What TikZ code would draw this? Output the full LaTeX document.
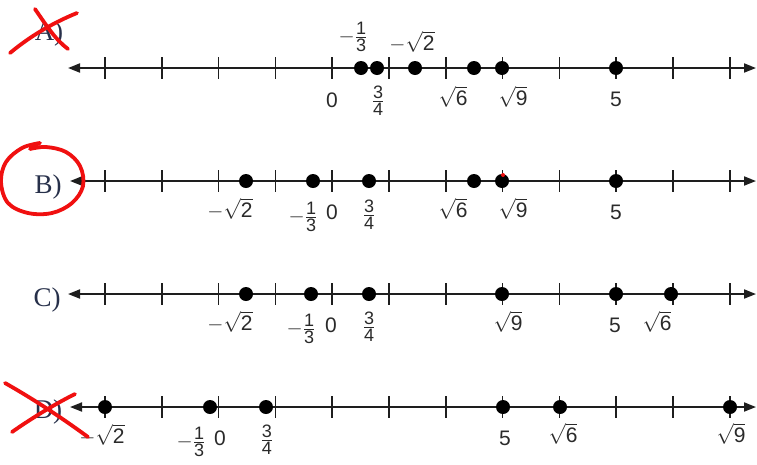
\documentclass[tikz,border=0pt]{standalone}
\usepackage{amsmath}
\usepackage{fontspec}
\setmainfont{Liberation Sans}
\newfontfamily\serf{Liberation Serif}
\usetikzlibrary{arrows.meta}
\definecolor{ink}{HTML}{1E1E1E}
\definecolor{lab}{HTML}{2A2A2A}
\definecolor{letc}{HTML}{27304A}
\definecolor{penred}{HTML}{F01010}
\newcommand\sm[1]{\text{\fontsize{18}{18}\selectfont #1}}
\newcommand\fr[2]{$\genfrac{}{}{0.9pt}{1}{\sm{#1}}{\sm{#2}}$}
\newcommand\msq[1]{$-\sqrt{\text{#1}}$}
\newcommand\sq[1]{$\sqrt{\text{#1}}$}
\newcommand\mfr[2]{$-\genfrac{}{}{0.9pt}{1}{\sm{#1}}{\sm{#2}}$}
\tikzset{
  axis/.style={draw=ink,line width=1.8pt,{Triangle[length=12pt,width=9pt]}-{Triangle[length=12pt,width=9pt]}},
  tck/.style={draw=ink,line width=1.6pt},
  dotn/.style={circle,fill=black,inner sep=0pt,minimum size=14pt},
  lbl/.style={inner sep=0pt,text=lab,font=\fontsize{21}{23}\selectfont},
  letter/.style={inner sep=0pt,text=letc,font=\serf\fontsize{27}{29}\selectfont},
  redstroke/.style={draw=penred,line width=3.8pt,line cap=round,line join=round}
}
\newcommand\ticks[1]{\foreach \k in {0,...,11}{\draw[tck] ({105+56.8*\k},{#1-11}) -- ({105+56.8*\k},{#1+11});}}
\begin{document}
\begin{tikzpicture}[x=1pt,y=-1pt]
\useasboundingbox (0,0) rectangle (757,464);
% ---------- A ----------
\coordinate (aL) at (68,68); \coordinate (aR) at (756,68);
\draw[axis] (aL) -- (aR);
\ticks{68}
\foreach \n/\x in {a1/361,a2/377,a3/415,a4/474,a5/502,a6/616}{\node[dotn] (\n) at (\x,68) {};}
\node[letter] (la) at (49,34) {A)};
\node[lbl] (ta1) at (353,37) {\mfr{1}{3}};
\node[lbl] (ta2) at (412,42) {\msq{2}};
\node[lbl] (ta3) at (332,100) {0};
\node[lbl] (ta4) at (378,101) {\fr{3}{4}};
\node[lbl] (ta5) at (453,97) {\sq{6}};
\node[lbl] (ta6) at (513,97) {\sq{9}};
\node[lbl] (ta7) at (616,99) {5};
% ---------- B ----------
\coordinate (bL) at (70,181); \coordinate (bR) at (756,181);
\draw[axis] (bL) -- (bR);
\ticks{181}
\foreach \n/\x in {b1/246,b2/313,b3/369,b4/474,b5/502,b6/616}{\node[dotn] (\n) at (\x,181) {};}
\node[letter] (lb) at (48,187) {B)};
\node[lbl] (tb1) at (230,209) {\msq{2}};
\node[lbl] (tb2) at (303,217) {\mfr{1}{3}};
\node[lbl] (tb3) at (332,212) {0};
\node[lbl] (tb4) at (369,215) {\fr{3}{4}};
\node[lbl] (tb5) at (453,209) {\sq{6}};
\node[lbl] (tb6) at (513,209) {\sq{9}};
\node[lbl] (tb7) at (616,212) {5};
\fill[penred] (503,175) circle (2pt);
% ---------- C ----------
\coordinate (cL) at (68,294); \coordinate (cR) at (756,294);
\draw[axis] (cL) -- (cR);
\ticks{294}
\foreach \n/\x in {c1/246,c2/311,c3/369,c4/502,c5/616,c6/671}{\node[dotn] (\n) at (\x,294) {};}
\node[letter] (lc) at (47,300) {C)};
\node[lbl] (tc1) at (230,322) {\msq{2}};
\node[lbl] (tc2) at (301,329) {\mfr{1}{3}};
\node[lbl] (tc3) at (331,325) {0};
\node[lbl] (tc4) at (369,327) {\fr{3}{4}};
\node[lbl] (tc5) at (508,322) {\sq{9}};
\node[lbl] (tc6) at (615,325) {5};
\node[lbl] (tc7) at (657,322) {\sq{6}};
% ---------- D ----------
\coordinate (dL) at (70,407); \coordinate (dR) at (756,407);
\draw[axis] (dL) -- (dR);
\ticks{407}
\foreach \n/\x in {d1/105,d2/210,d3/266,d4/503,d5/560,d6/730}{\node[dotn] (\n) at (\x,407) {};}
\node[letter] (ld) at (48,412) {D)};
\node[lbl] (td1) at (102,435) {\msq{2}};
\node[lbl] (td2) at (191,442) {\mfr{1}{3}};
\node[lbl] (td3) at (220,438) {0};
\node[lbl] (td4) at (267,440) {\fr{3}{4}};
\node[lbl] (td5) at (505,438) {5};
\node[lbl] (td6) at (563,434) {\sq{6}};
\node[lbl] (td7) at (731,434) {\sq{9}};
% ---------- red marks ----------
\draw[redstroke] (35,9) .. controls (48,28) and (56,40) .. (68,49);
\draw[redstroke] (77,13) .. controls (50,24) and (28,38) .. (10,53);
\draw[redstroke] plot[smooth,tension=0.6] coordinates {(40,143) (22,148) (6,162) (1,182) (8,203) (28,213) (52,213) (72,203) (83,186) (80,166) (66,152) (46,147) (30,149)};
\draw[redstroke] (5,383) .. controls (35,400) and (62,418) .. (88,437);
\draw[redstroke] (75,394) .. controls (55,404) and (32,418) .. (12,432);
\end{tikzpicture}
\end{document}
